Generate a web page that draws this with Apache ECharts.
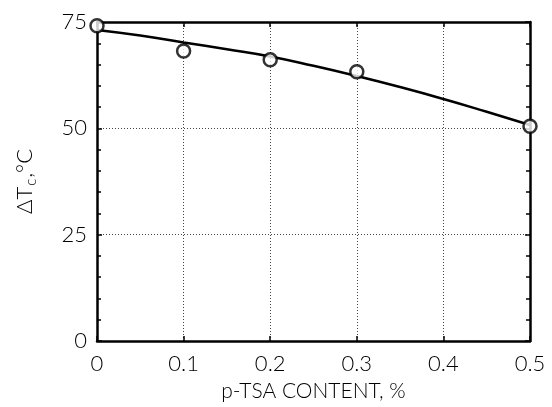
<!DOCTYPE html>
<html>
<head>
<meta charset="utf-8">
<script src="https://cdn.jsdelivr.net/npm/echarts@6/dist/echarts.min.js"></script>
<style>
  html, body { margin: 0; padding: 0; background: #fff; }
  #chart { width: 552px; height: 407px; }
</style>
</head>
<body>
<div id="chart"></div>
<script>
// Measured points: p-TSA content (%) vs ΔTc (°C)
const contentPct = [0, 0.1, 0.2, 0.3, 0.5];
const deltaTc = [74.1, 68.2, 66.1, 63.3, 50.5];

// Fitted curve through the measurements
const fitContent = [0, 0.05, 0.1, 0.15, 0.2, 0.25, 0.3, 0.35, 0.4, 0.45, 0.5];
const fitDeltaTc = [73.1, 71.8, 70.2, 68.6, 66.9, 64.7, 62.3, 59.7, 56.9, 53.9, 50.8];

const xTicks = [0, 0.1, 0.2, 0.3, 0.4, 0.5];
const yTicks = [0, 25, 50, 75];

const FONT = 'Lato';
const labelStyle = { color: '#000', fontSize: 22, fontFamily: FONT, fontWeight: 300 };
const frame = { show: true, onZero: false, lineStyle: { color: '#000', width: 2.5 } };
const grid = { show: true, lineStyle: { color: '#444', width: 1, type: [1, 2] } };

const chart = echarts.init(document.getElementById('chart'), null, { renderer: 'canvas' });
chart.setOption({
  animation: false,
  backgroundColor: '#fff',
  grid: { left: 97, right: 22, top: 22, bottom: 64 },
  xAxis: [
    {
      type: 'value', min: 0, max: 0.5, interval: 0.1,
      axisLine: frame,
      axisTick: { show: true, inside: true, length: 5, lineStyle: { color: '#000', width: 1.5 } },
      axisLabel: Object.assign({ margin: 12, formatter: v => xTicks.includes(+v.toFixed(1)) ? String(+v.toFixed(1)) : '' }, labelStyle),
      splitLine: grid,
      name: 'p-TSA CONTENT, %', nameLocation: 'middle', nameGap: 40,
      nameTextStyle: { color: '#000', fontSize: 21, fontFamily: FONT, fontWeight: 300 }
    },
    {
      type: 'value', min: 0, max: 0.5, interval: 0.1, position: 'top',
      axisLine: frame,
      axisTick: { show: true, inside: true, length: 5, lineStyle: { color: '#000', width: 1.5 } },
      axisLabel: { show: false }, splitLine: { show: false }
    }
  ],
  yAxis: [
    {
      type: 'value', min: 0, max: 75, interval: 25,
      axisLine: frame,
      axisTick: { show: true, inside: true, length: 5, lineStyle: { color: '#000', width: 1.5 } },
      minorTick: { show: true, splitNumber: 5, length: 4, lineStyle: { color: '#000', width: 1.5 } },
      axisLabel: Object.assign({ margin: 10, formatter: v => yTicks.includes(v) ? String(v) : '' }, labelStyle),
      splitLine: grid,
      name: '{m|ΔT}{s|c}{m|,°C}', nameLocation: 'middle', nameGap: 58, nameRotate: 90,
      nameTextStyle: {
        rich: {
          m: { color: '#000', fontSize: 22, fontFamily: FONT, fontWeight: 300 },
          s: { color: '#000', fontSize: 15, fontFamily: FONT, fontWeight: 300, padding: [14, 1, 0, 1] }
        }
      }
    },
    {
      type: 'value', min: 0, max: 75, interval: 25, position: 'right',
      axisLine: frame,
      axisTick: { show: true, inside: true, length: 5, lineStyle: { color: '#000', width: 1.5 } },
      minorTick: { show: true, splitNumber: 5, length: 4, lineStyle: { color: '#000', width: 1.5 } },
      axisLabel: { show: false }, splitLine: { show: false }
    }
  ],
  series: [
    {
      type: 'line', smooth: true, symbol: 'none',
      data: fitContent.map((x, i) => [x, fitDeltaTc[i]]),
      lineStyle: { color: '#000', width: 2.5 }, z: 3
    },
    {
      type: 'scatter', symbol: 'circle', symbolSize: 13,
      data: contentPct.map((x, i) => [x, deltaTc[i]]),
      itemStyle: { color: '#fff', borderColor: '#000', borderWidth: 2.5 }, z: 4
    }
  ]
});
</script>
</body>
</html>
